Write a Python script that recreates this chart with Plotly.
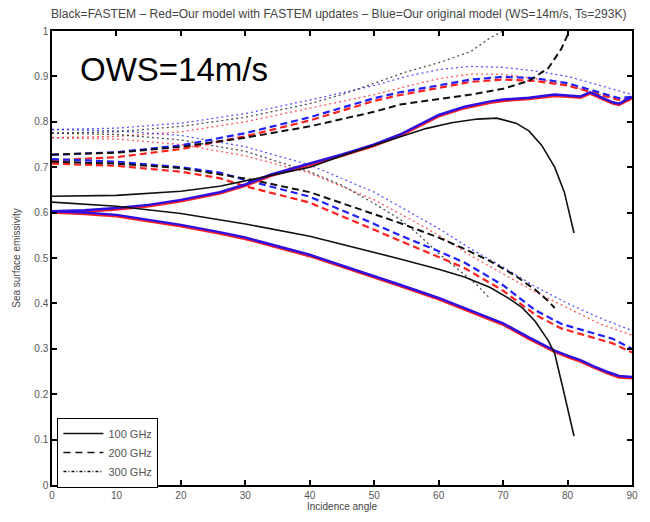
import plotly.graph_objects as go

# ---------------- data ----------------
# 100 GHz (solid)
ang_k100v = [0, 10, 20, 26, 34, 40, 45, 50, 54, 58, 62, 66, 69, 72, 74, 76, 78, 79.5, 81]
k100v = [0.636, 0.638, 0.647, 0.658, 0.682, 0.700, 0.725, 0.748, 0.767, 0.785, 0.798, 0.806, 0.808, 0.797, 0.780, 0.748, 0.700, 0.645, 0.555]
ang_k100h = [0, 10, 20, 26, 30, 40, 50, 54, 60, 64, 68, 71, 73, 75, 77, 78, 79.4, 80.3, 81]
k100h = [0.623, 0.614, 0.598, 0.585, 0.575, 0.548, 0.513, 0.498, 0.475, 0.458, 0.435, 0.410, 0.390, 0.360, 0.318, 0.290, 0.206, 0.150, 0.108]

ang_full = [0, 5, 10, 15, 20, 26, 30, 34, 40, 45, 50, 54, 60, 64, 68, 70, 74, 78, 80, 82, 83.5, 85, 87, 88, 90]
b100v = [0.603, 0.605, 0.610, 0.617, 0.628, 0.645, 0.662, 0.684, 0.708, 0.728, 0.750, 0.772, 0.815, 0.833, 0.845, 0.849, 0.853, 0.860, 0.858, 0.856, 0.865, 0.856, 0.843, 0.840, 0.855]
r100v = [0.600, 0.602, 0.607, 0.614, 0.625, 0.642, 0.659, 0.681, 0.705, 0.725, 0.747, 0.769, 0.812, 0.830, 0.842, 0.846, 0.850, 0.857, 0.855, 0.853, 0.862, 0.853, 0.840, 0.837, 0.852]

ang_h = [0, 5, 10, 20, 26, 30, 40, 50, 54, 60, 64, 70, 74, 78, 80, 82, 84, 86, 88, 90]
b100h = [0.603, 0.600, 0.595, 0.573, 0.557, 0.545, 0.507, 0.461, 0.441, 0.412, 0.390, 0.356, 0.325, 0.296, 0.285, 0.275, 0.262, 0.250, 0.240, 0.238]
r100h = [0.600, 0.597, 0.592, 0.570, 0.554, 0.542, 0.504, 0.458, 0.438, 0.409, 0.387, 0.353, 0.322, 0.293, 0.282, 0.272, 0.259, 0.247, 0.237, 0.235]

# 200 GHz (dashed)
ang_d = [0, 10, 20, 30, 40, 50, 54, 60, 65, 70, 75, 80, 85, 88, 90]
b200v = [0.727, 0.733, 0.748, 0.775, 0.810, 0.852, 0.865, 0.880, 0.893, 0.899, 0.896, 0.885, 0.865, 0.852, 0.855]
r200v = [0.715, 0.722, 0.740, 0.768, 0.803, 0.846, 0.859, 0.875, 0.888, 0.893, 0.890, 0.880, 0.860, 0.848, 0.850]
ang_k200v = [0, 10, 20, 30, 40, 50, 54, 60, 65, 70, 74, 77, 79, 80.3]
k200v = [0.728, 0.732, 0.745, 0.765, 0.790, 0.822, 0.838, 0.850, 0.860, 0.873, 0.890, 0.918, 0.960, 1.000]

ang_dh = [0, 10, 20, 26, 30, 40, 50, 54, 60, 64, 70, 75, 79, 83, 87, 90]
b200h = [0.718, 0.712, 0.700, 0.688, 0.672, 0.635, 0.575, 0.550, 0.515, 0.490, 0.440, 0.385, 0.355, 0.338, 0.322, 0.300]
r200h = [0.708, 0.703, 0.690, 0.676, 0.658, 0.622, 0.562, 0.538, 0.503, 0.478, 0.428, 0.375, 0.345, 0.328, 0.312, 0.292]
ang_k200h = [0, 10, 20, 30, 40, 50, 54, 60, 64, 68, 72, 75, 77, 78]
k200h = [0.712, 0.708, 0.698, 0.675, 0.645, 0.597, 0.577, 0.545, 0.520, 0.493, 0.460, 0.430, 0.405, 0.390]

# 300 GHz (dotted)
ang_p = [0, 10, 20, 30, 40, 50, 55, 60, 65, 70, 75, 80, 85, 90]
b300v = [0.783, 0.786, 0.797, 0.818, 0.848, 0.880, 0.900, 0.915, 0.922, 0.920, 0.912, 0.900, 0.880, 0.860]
r300v = [0.765, 0.768, 0.778, 0.800, 0.830, 0.860, 0.878, 0.895, 0.905, 0.905, 0.895, 0.880, 0.860, 0.845]
ang_k300v = [0, 10, 20, 30, 40, 45, 50, 55, 60, 65, 68, 70]
k300v = [0.775, 0.778, 0.790, 0.810, 0.840, 0.860, 0.885, 0.910, 0.930, 0.955, 0.985, 1.000]

b300h = [0.783, 0.780, 0.770, 0.745, 0.705, 0.645, 0.605, 0.565, 0.520, 0.480, 0.437, 0.400, 0.368, 0.340]
r300h = [0.765, 0.762, 0.750, 0.725, 0.687, 0.628, 0.590, 0.550, 0.505, 0.465, 0.425, 0.390, 0.355, 0.330]
ang_k300h = [0, 10, 20, 30, 40, 45, 50, 54, 57, 60, 63, 66, 68]
k300h = [0.775, 0.772, 0.760, 0.735, 0.690, 0.660, 0.620, 0.585, 0.550, 0.510, 0.475, 0.440, 0.410]

legend_names = ["100 GHz", "200 GHz", "300 GHz"]
title_text = "Black=FASTEM \u2013 Red=Our model with FASTEM updates \u2013 Blue=Our original model (WS=14m/s, Ts=293K)"

# ---------------- styling ----------------
BLACK = "#111111"
RED = "#ff2020"
BLUE = "#2020ff"
SOLIDBLUE = "#3010e0"
DOT = "2px,3px"
DASH = "7px,4px"
FONT = "Liberation Sans, Arial, sans-serif"

fig = go.Figure()

def add(x, y, color, dash, width, name=None, legend=False, opacity=1.0):
    fig.add_trace(go.Scatter(
        x=x, y=y, mode="lines", name=name, showlegend=legend,
        line=dict(color=color, dash=dash, width=width), opacity=opacity,
        hoverinfo="skip"))

# dotted (300 GHz)
add(ang_p, r300v, RED, DOT, 1.3, opacity=0.75)
add(ang_p, b300v, BLUE, DOT, 1.3, opacity=0.75)
add(ang_p, r300h, RED, DOT, 1.3, opacity=0.75)
add(ang_p, b300h, BLUE, DOT, 1.3, opacity=0.75)
add(ang_k300v, k300v, BLACK, DOT, 1.3, opacity=0.75)
add(ang_k300h, k300h, BLACK, DOT, 1.3, opacity=0.75)

# dashed (200 GHz)
add(ang_d, r200v, RED, DASH, 2.2)
add(ang_d, b200v, BLUE, DASH, 2.2)
add(ang_dh, r200h, RED, DASH, 2.2)
add(ang_dh, b200h, BLUE, DASH, 2.2)
add(ang_k200v, k200v, BLACK, DASH, 2.0)
add(ang_k200h, k200h, BLACK, DASH, 2.0)

# solid (100 GHz)
add(ang_full, r100v, RED, "solid", 2.5)
add(ang_full, b100v, SOLIDBLUE, "solid", 2.5)
add(ang_h, r100h, RED, "solid", 2.5)
add(ang_h, b100h, SOLIDBLUE, "solid", 2.5)
add(ang_k100v, k100v, BLACK, "solid", 1.6)
add(ang_k100h, k100h, BLACK, "solid", 1.6)

# legend entries (black)
add([None], [None], BLACK, "solid", 1.5, legend_names[0], True)
add([None], [None], BLACK, "7px,5px", 1.5, legend_names[1], True)
add([None], [None], BLACK, "3px,2px,1px,2px", 1.5, legend_names[2], True)

axis_common = dict(
    showline=True, linecolor="black", linewidth=1.5, mirror="ticks",
    ticks="inside", ticklen=5, tickwidth=1.5, tickcolor="black",
    showgrid=False, zeroline=False,
    tickfont=dict(family=FONT, size=10, color="#555555"),
)

fig.update_layout(
    width=650, height=522,
    margin=dict(l=52, r=18, t=31, b=35),
    paper_bgcolor="white", plot_bgcolor="white",
    xaxis=dict(range=[0, 90], dtick=10, tick0=0,
               title=dict(text="Incidence angle", standoff=2,
                          font=dict(family=FONT, size=10, color="#444444")),
               **axis_common),
    yaxis=dict(range=[0, 1], dtick=0.1, tick0=0,
               title=dict(text="Sea surface emissivity", standoff=12,
                          font=dict(family=FONT, size=10, color="#444444")),
               **axis_common),
    legend=dict(x=0.009, y=0.148, xanchor="left", yanchor="top",
                bordercolor="black", borderwidth=1.2, bgcolor="white",
                font=dict(family=FONT, size=11, color="#555555"),
                tracegroupgap=0, itemwidth=40),
    annotations=[
        dict(text=title_text, xref="x", yref="paper", x=44.6, y=1.0, xanchor="center", yanchor="bottom",
             yshift=8, showarrow=False,
             font=dict(family=FONT, size=12.1, color="#444444")),
        dict(text="OWS=14m/s", xref="paper", yref="paper", x=0.045, y=0.915, xanchor="left", yanchor="middle",
             showarrow=False,
             font=dict(family=FONT, size=33, color="black")),
    ],
)

fig.write_html("out.html")
